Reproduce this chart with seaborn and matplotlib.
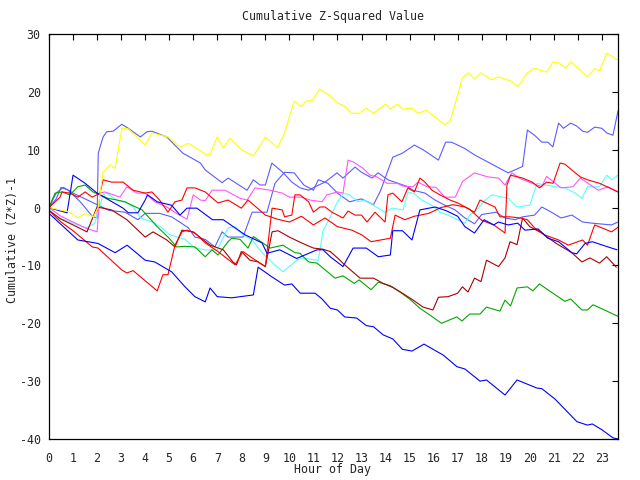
import matplotlib
matplotlib.use("Agg")
import matplotlib.pyplot as plt
import seaborn as sns
import pandas as pd

# ---------------- data ----------------
x_ticks = list(range(24))
y_ticks = [-40, -30, -20, -10, 0, 10, 20, 30]

yellow_x = [0, 0.8, 1.2, 1.5, 1.85, 2.05, 2.25, 2.54, 2.75, 3.03, 3.3, 4.0, 4.28, 4.95, 5.45, 5.8, 6.56, 6.7, 7.0, 7.25,
            7.53, 8.0, 8.5, 9.0, 9.5, 9.8, 10.2, 10.5, 10.7, 10.97, 11.25, 11.7, 12.0, 12.3, 12.6, 12.9, 13.2, 13.5,
            14.0, 14.2, 14.5, 14.7, 15.1, 15.35, 15.7, 16.05, 16.47, 16.7, 17.2, 17.43, 17.7, 17.97, 18.4, 18.7, 19.2,
            19.5, 19.9, 20.2, 20.7, 20.97, 21.2, 21.5, 21.7, 22.1, 22.4, 22.7, 22.9, 23.2, 23.67]
yellow_y = [0, -0.7, -1.8, -1.0, -1.6, 0.1, 6.1, 7.4, 6.8, 13.7, 13.6, 10.8, 12.9, 12.2, 10.5, 11.1, 9.1, 9.2, 12.2, 10.3,
            12.0, 10.0, 8.9, 12.2, 10.3, 12.9, 18.4, 17.5, 18.4, 18.6, 20.5, 19.3, 18.1, 17.5, 16.3, 16.3, 17.2, 16.3,
            17.9, 17.0, 17.9, 17.0, 17.2, 16.3, 16.8, 15.7, 14.3, 15.1, 22.4, 23.3, 22.2, 23.3, 22.1, 22.6, 21.9,
            20.9, 23.3, 24.1, 23.4, 25.2, 25.0, 24.1, 25.2, 23.8, 22.6, 24.0, 23.6, 26.7, 25.5]

sb_high_x = [0, 0.3, 0.5, 0.8, 1.0, 1.3, 1.8, 2.0, 2.05, 2.25, 2.4, 2.67, 3.03, 3.3, 3.8, 4.07, 4.28, 4.9, 5.57, 6.3,
             6.5, 7.2, 7.45, 8.24, 8.5, 8.78, 9.0, 9.27, 9.75, 10.1, 10.45, 10.8, 11.07, 11.48, 11.98, 12.23, 12.73,
             13.0, 13.44, 13.69, 14.1, 14.52, 14.93, 15.14, 15.64, 16.06, 16.47, 16.89, 17.3, 17.7, 18.0, 18.6, 18.97,
             19.4, 19.7, 20.2, 20.5, 20.9, 21.3, 21.75, 22.2, 22.6, 23.4, 23.67]
sb_high_y = [0, 1.5, 3.5, 3.0, 2.2, 1.0, -1.5, -1.8, 9.4, 12.2, 13.1, 13.2, 14.4, 13.7, 12.2, 13.1, 13.2, 12.2, 9.4, 7.7,
             6.5, 4.3, 5.1, 3.0, 4.8, 3.9, 3.9, 7.7, 6.0, 4.4, 3.4, 3.0, 3.6, 4.4, 6.0, 5.1, 7.0,
             6.1, 5.1, 6.0, 4.8, 4.2, 3.6, 3.0, 2.5, 1.3, 0.4, -0.4, -1.8, -2.8, -1.2, -0.8, -1.8,
             -2.1, -1.6, -1.3, 0.1, -0.8, -1.8, -1.3, -2.5, -2.7, -3.0, -2.5]

sb_rise_x = [0, 0.3, 0.6, 1.0, 1.5, 2.0, 2.5, 3.16, 3.7, 4.0, 4.6, 5.1, 5.8, 6.07, 6.5, 6.9, 7.2, 7.45, 8.07, 8.45,
             9.07, 9.4, 9.8, 10.2, 10.6, 11.0, 11.2, 11.6, 12.0, 12.5, 13.0, 13.5, 13.8, 14.0, 14.3, 14.7, 15.2,
             15.56, 16.2, 16.5, 16.75, 17.3, 17.7, 18.47, 19.1, 19.7, 19.9, 20.2, 20.5, 20.75, 20.96, 21.2, 21.4,
             21.7, 21.95, 22.2, 22.4, 22.7, 23.0, 23.2, 23.46, 23.67]
sb_rise_y = [0, 2.5, 3.5, 2.5, 1.5, 0.5, -0.5, -0.8, -2.1, -1.0, -1.0, -1.6, -3.5, -5.1, -5.5, -6.8, -4.2, -5.1, -5.1, -0.8,
             -0.8, 4.2, 6.1, 6.0, 3.9, 3.0, 4.8, 4.2, 2.5, 1.0, 1.5, 0.5, 3.0, 5.3, 8.7, 9.4, 10.8,
             10.0, 8.2, 11.3, 11.3, 10.2, 9.1, 7.4, 6.0, 7.1, 13.4, 12.5, 11.3, 11.3, 10.5, 14.6, 13.7,
             14.6, 14.1, 13.2, 13.0, 13.9, 13.7, 12.9, 12.5, 16.7]

blue_low_x = [0, 1.2, 2.04, 2.75, 3.25, 4.0, 4.4, 5.1, 5.66, 6.07, 6.5, 6.7, 7.0, 7.6, 8.5, 8.7, 9.28, 9.8, 10.1, 10.45,
              11.07, 11.36, 11.7, 12.0, 12.3, 12.8, 13.2, 13.5, 13.9, 14.3, 14.7, 15.1, 15.6, 16.4, 16.97, 17.3,
              17.93, 18.2, 18.97, 19.47, 20.3, 20.5, 21.05, 21.96, 22.4, 22.6, 23.0, 23.46, 23.67]
blue_low_y = [-1.0, -5.6, -6.2, -7.8, -6.5, -9.1, -9.4, -11.1, -13.7, -15.4, -16.3, -13.9, -15.4, -15.6, -15.1, -10.3,
              -12.0, -13.4, -13.2, -14.8, -14.8, -15.8, -17.4, -17.7, -18.9, -19.1, -20.4, -20.6, -22.0, -22.7, -24.5,
              -24.8, -23.6, -25.5, -27.5, -27.9, -30.0, -29.8, -32.4, -29.8, -31.2, -31.3, -33.1, -37.0, -37.6, -37.4,
              -38.4, -39.8, -40.0]

blue_mid_x = [0, 0.4, 0.75, 1.0, 1.5, 2.0, 2.25, 3.08, 3.3, 3.7, 4.0, 4.1, 4.5, 5.1, 5.45, 5.74, 6.15, 6.8, 7.25, 8.15,
              8.86, 9.07, 9.6, 10.3, 11.15, 11.4, 11.7, 12.23, 12.65, 13.2, 13.7, 14.2, 14.3, 14.7, 15.1, 15.43, 16.06,
              16.5, 17.0, 17.3, 17.7, 18.1, 18.5, 18.7, 19.1, 19.5, 19.8, 20.35, 20.75, 21.2, 21.75, 21.95, 22.3, 22.6,
              23.25, 23.63]
blue_mid_y = [0, -0.5, -0.9, 5.6, 4.2, 2.5, 1.9, -0.1, -0.9, -0.9, 1.3, 2.2, 1.0, 0.4, -1.3, -0.1, -0.1, -2.1, -2.1, -4.7,
              -6.1, -7.9, -7.3, -8.8, -7.3, -7.3, -8.5, -10.2, -7.0, -7.0, -8.5, -8.2, -4.0, -4.0, -5.6, -0.4, 0.1,
              -0.5, -1.5, -3.3, -4.4, -2.1, -3.0, -2.5, -3.0, -2.7, -3.9, -3.7, -5.3, -5.9, -7.8, -8.0, -6.2, -5.9,
              -6.8, -7.3]

green_x = [0, 0.25, 0.54, 0.87, 1.2, 1.5, 1.83, 2.45, 2.83, 3.16, 3.45, 3.87, 4.5, 5.0, 5.3, 5.66, 6.07, 6.5, 6.78, 7.03,
           7.45, 7.6, 7.95, 8.28, 8.5, 9.2, 9.73, 10.23, 10.44, 10.8, 11.15, 11.9, 12.23, 12.7, 12.9, 13.4, 13.7, 14.2,
           14.6, 15.0, 15.43, 15.85, 16.33, 16.96, 17.18, 17.5, 17.93, 18.2, 18.76, 18.97, 19.2, 19.47, 19.9, 20.13,
           20.4, 20.96, 21.46, 21.7, 22.17, 22.4, 22.63, 23.0, 23.67]
green_y = [0, 2.5, 2.7, 2.2, 3.6, 3.9, 2.7, 1.6, 1.3, 1.0, 0.4, -0.4, -3.3, -5.3, -6.8, -6.7, -6.8, -8.5, -7.3, -8.2,
           -5.9, -5.3, -5.5, -7.0, -5.0, -7.0, -6.5, -7.8, -7.9, -9.4, -9.6, -12.2, -11.8, -13.1, -12.5, -14.2, -12.9,
           -13.5, -14.6, -15.8, -17.4, -18.6, -20.0, -18.9, -19.6, -18.4, -18.4, -17.2, -17.9, -16.0, -17.0, -13.9,
           -13.7, -14.4, -13.2, -14.8, -16.2, -15.8, -17.7, -17.7, -16.8, -17.5, -18.8]

darkred_x = [0, 0.5, 1.0, 1.58, 2.0, 2.6, 3.24, 4.0, 4.33, 4.9, 5.24, 5.53, 6.0, 6.7, 7.25, 7.65, 7.8, 8.0, 8.36, 8.7,
             9.0, 9.28, 9.53, 10.0, 10.5, 11.0, 11.4, 11.7, 12.0, 12.3, 12.94, 13.5, 13.9, 14.3, 14.7, 15.15, 15.56,
             15.97, 16.2, 16.6, 17.0, 17.2, 17.43, 17.7, 17.97, 18.2, 18.7, 18.97, 19.18, 19.47, 19.7, 20.0, 20.5,
             21.1, 21.75, 22.17, 22.5, 22.9, 23.2, 23.6]
darkred_y = [-0.5, -2.0, -3.0, -4.2, 0.1, -0.4, -2.1, -5.1, -4.2, -5.6, -6.8, -3.9, -4.2, -6.5, -7.3, -9.4, -9.9, -7.6,
             -9.1, -9.4, -10.2, -4.2, -4.0, -5.1, -6.1, -7.0, -7.2, -7.6, -8.7, -9.9, -12.2, -12.2, -13.1, -13.8, -14.8,
             -16.0, -17.2, -17.7, -15.5, -15.4, -14.8, -13.7, -14.6, -12.2, -12.8, -9.1, -10.2, -8.7, -5.9, -6.4,
             -1.8, -3.3, -4.4, -6.2, -7.8, -9.4, -8.7, -9.6, -8.5, -10.3]

red_jump_x = [0, 0.5, 1.0, 1.8, 2.04, 3.03, 3.24, 3.5, 4.5, 4.74, 4.95, 5.24, 5.53, 5.74, 6.07, 6.5, 7.03, 7.74, 8.07,
              8.45, 9.0, 9.28, 9.7, 9.8, 10.1, 10.23, 10.44, 10.8, 11.0, 11.27, 11.48, 11.77, 12.23, 12.44, 12.73,
              13.0, 13.23, 13.56, 13.98, 14.1, 14.3, 14.68, 14.93, 15.2, 15.43, 15.64, 15.93, 16.26, 16.68, 17.0,
              17.5, 18.0, 18.5, 18.97, 19.05, 19.2, 19.7, 20.1, 20.4, 20.7, 20.97, 21.26, 21.46, 22.1, 22.4, 22.9,
              23.67]
red_jump_y = [-0.5, -2.5, -4.0, -6.8, -7.0, -10.8, -11.3, -10.9, -14.4, -11.6, -11.6, -6.5, -4.2, -3.9, -4.4, -6.1,
              -7.6, -9.9, -7.6, -8.7, -10.2, -0.1, -0.4, -1.6, -1.3, 2.2, 2.2, 1.0, -0.8, 0.1, 0.1, -0.8, -1.8, -0.6,
              -1.3, -1.3, -2.5, -0.8, -2.5, 2.2, 2.5, 1.0, 3.4, 2.7, 5.1, 4.4, 3.0, 2.2, 1.3, 0.8,
              -0.3, -2.2, -3.0, -4.4, 3.9, 5.6, 5.1, 4.4, 3.4, 4.4, 4.2, 7.7, 7.5, 5.3, 4.8, 4.2,
              2.7]

red_top_x = [0, 0.46, 0.54, 0.87, 1.2, 1.5, 1.8, 2.12, 2.25, 2.6, 3.08, 3.5, 4.0, 4.28, 4.6, 4.95, 5.24, 5.53, 5.74,
             6.07, 6.5, 7.03, 7.45, 8.0, 8.28, 9.0, 9.5, 10.0, 10.5, 11.0, 11.48, 12.0, 12.6, 13.0, 13.4, 14.2, 14.4,
             14.8, 15.2, 15.8, 16.3, 16.8, 17.3, 17.7, 17.93, 18.55, 18.76, 19.18, 19.6, 19.9, 20.2, 20.6, 21.2, 21.6,
             22.2, 22.4, 22.7, 23.0, 23.4, 23.67]
red_top_y = [0, 1.8, 2.7, 2.5, 1.8, 2.7, 1.8, 2.5, 4.8, 4.4, 4.4, 3.0, 2.5, 2.7, 1.3, -0.8, 1.0, 1.3, 3.4,
             3.4, 2.7, 0.8, 1.3, -0.1, 1.3, -1.3, -2.0, -2.5, -1.5, -3.0, -1.8, -3.3, -3.9, -4.7, -5.9, -5.3, -1.3,
             -2.1, -1.5, -1.0, 0.0, 0.5, 0.1, -0.8, 1.3, 0.1, -1.6, -1.6, -1.8, -2.1, -3.5, -4.7, -5.6, -6.5,
             -5.6, -6.5, -3.0, -3.5, -4.2, -3.4]

magenta_x = [0, 0.5, 1.0, 1.5, 2.0, 2.12, 2.33, 2.95, 3.24, 3.66, 4.0, 4.4, 4.9, 5.3, 5.74, 6.0, 6.3, 6.5, 6.78, 7.32,
             7.95, 8.24, 8.57, 9.2, 9.7, 10.0, 10.5, 10.86, 11.36, 11.56, 12.0, 12.23, 12.44, 12.65, 13.06, 13.35,
             13.64, 14.06, 14.48, 14.73, 15.14, 15.35, 15.72, 16.1, 16.47, 16.9, 17.2, 17.7, 18.26, 18.7, 18.97, 19.26,
             19.6, 20.1, 20.5, 20.7, 21.3, 21.8, 22.1, 22.85, 23.25, 23.67]
magenta_y = [0, -1.5, -2.5, -3.5, -4.2, 2.5, 2.7, 1.8, 3.6, 2.5, 2.5, 1.0, 0.1, -1.0, -2.0, 2.2, 1.3, 1.2, 3.0, 3.0,
             1.6, 1.3, 3.4, 3.0, 2.5, 1.8, 1.8, 1.3, 1.0, 2.2, 2.7, 2.5, 8.2, 7.9, 6.8, 5.6,
             5.3, 4.2, 4.2, 3.7, 3.6, 4.4, 3.6, 3.5, 1.8, 1.8, 4.5, 6.0, 5.3, 5.1, 3.9, 6.0,
             5.0, 4.2, 3.6, 5.4, 3.4, 3.6, 5.1, 3.0, 3.6, 2.7]

cyan_x = [0, 0.25, 0.67, 1.16, 1.58, 1.9, 2.25, 2.4, 2.83, 3.24, 3.5, 3.8, 4.3, 4.7, 5.03, 5.66, 6.07, 6.5, 7.0, 7.45,
          7.74, 8.07, 8.45, 8.86, 9.32, 9.73, 10.23, 10.44, 11.2, 11.4, 11.7, 11.98, 12.23, 12.5, 12.85, 13.14, 13.5,
          13.98, 14.27, 14.73, 14.93, 15.2, 15.5, 15.93, 16.26, 16.6, 17.0, 17.3, 17.5, 17.8, 18.14, 18.43, 19.1,
          19.47, 20.0, 20.3, 20.6, 21.46, 21.9, 22.17, 22.4, 22.9, 23.2, 23.4, 23.67]
cyan_y = [0, -1.8, -2.1, -3.0, -3.5, -2.7, 2.2, 2.5, 1.3, 0.8, 0.1, -1.8, -2.5, -3.5, -4.7, -5.5, -7.0, -7.3, -7.3, -3.5,
          -3.3, -4.7, -5.6, -7.8, -9.6, -11.1, -9.4, -8.7, -9.1, -4.0, -1.6, 0.8, 2.5, 2.2, 1.0, 1.3, 0.4,
          -0.8, -0.1, -0.4, 2.7, 2.4, 1.3, 0.4, -0.8, -1.3, -2.1, -2.7, -1.3, -0.4, 1.3, 2.2, 1.6,
          0.1, 0.4, 4.2, 3.9, 3.4, 2.5, 1.6, 3.6, 3.6, 5.6, 4.8, 5.6]

series = [
    ("s01", sb_high_x, sb_high_y, "#5c5cff"),
    ("s02", sb_rise_x, sb_rise_y, "#5c5cff"),
    ("s03", cyan_x, cyan_y, "#55ffff"),
    ("s04", magenta_x, magenta_y, "#ff55ff"),
    ("s05", green_x, green_y, "#00a800"),
    ("s06", darkred_x, darkred_y, "#a80000"),
    ("s07", red_top_x, red_top_y, "#ff0000"),
    ("s08", red_jump_x, red_jump_y, "#ff0000"),
    ("s09", blue_mid_x, blue_mid_y, "#0000ff"),
    ("s10", blue_low_x, blue_low_y, "#0000ff"),
    ("s11", yellow_x, yellow_y, "#ffff00"),
]

rows = []
for name, xs, ys, _c in series:
    for i, (xv, yv) in enumerate(zip(xs, ys)):
        rows.append({"series": name, "order": i, "hour": xv, "value": yv})
df = pd.DataFrame(rows)
palette = {name: c for name, _x, _y, c in series}

# ---------------- plot ----------------
sns.set_style("white")
plt.rcParams['font.family'] = ['DejaVu Sans Mono', 'DejaVu Sans']
plt.rcParams['font.size'] = 8.4

fig = plt.figure(figsize=(6.4, 4.8), dpi=100)
ax = fig.add_axes([49 / 640, 41 / 480, 569 / 640, 405 / 480])

sns.lineplot(data=df, x="hour", y="value", hue="series", palette=palette,
             estimator=None, sort=False, legend=False, linewidth=0.8, ax=ax)

ax.set_xlim(0, 23.67)
ax.set_ylim(-40, 30)
ax.set_xticks(x_ticks)
ax.set_xticklabels([str(h) for h in x_ticks])
ax.set_yticks(y_ticks)
ax.set_yticklabels([str(v) for v in y_ticks])
ax.tick_params(axis="both", direction="in", length=4.5, width=0.8, color="black",
               top=True, right=True, labelsize=8.4)
ax.tick_params(axis="x", pad=9)
ax.tick_params(axis="y", pad=6)
for sp in ax.spines.values():
    sp.set_color("black")
    sp.set_linewidth(0.9)
ax.set_xlabel("")
ax.set_ylabel("")

fig.text(0.52, 0.966, "Cumulative Z-Squared Value", ha="center", va="center", fontsize=8.4)
fig.text(0.52, 0.021, "Hour of Day", ha="center", va="center", fontsize=8.4)
fig.text(0.019, 0.5, "Cumulative (Z*Z)-1", ha="center", va="center", rotation=90, fontsize=8.4)

fig.savefig("out.png", dpi=100, facecolor="white")
